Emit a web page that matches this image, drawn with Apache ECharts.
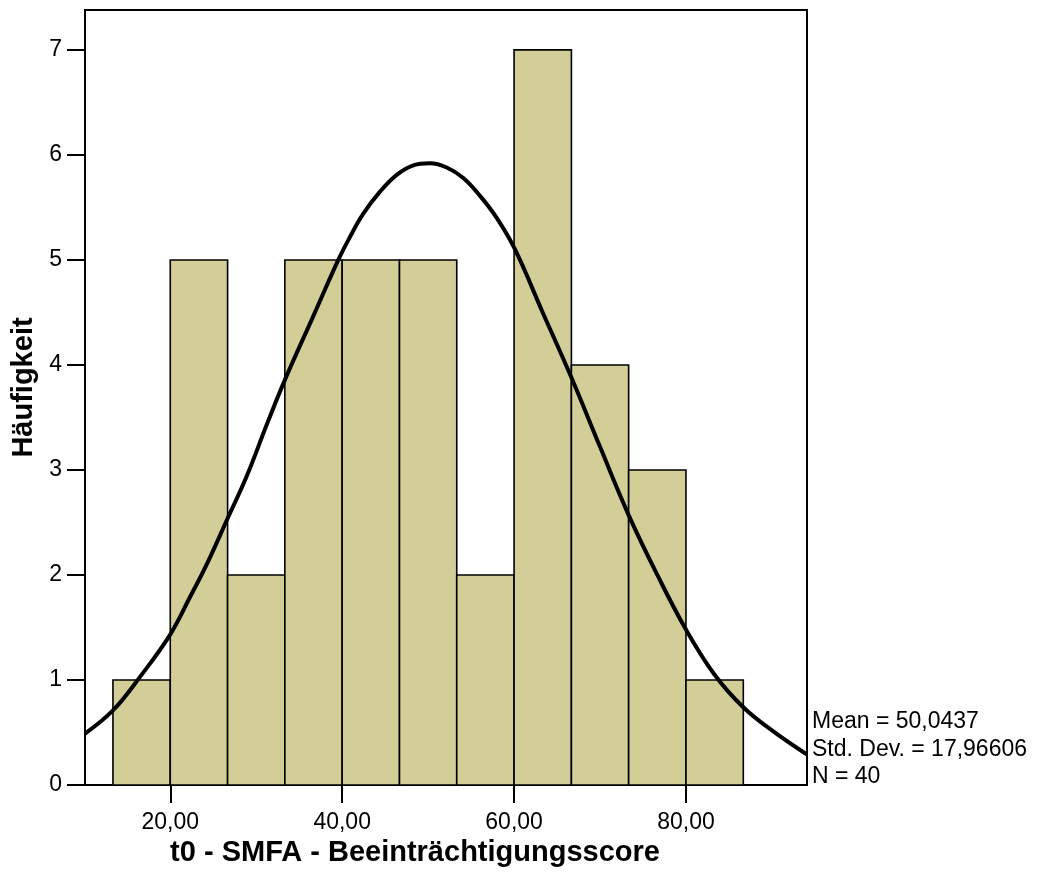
<!DOCTYPE html>
<html>
<head>
<meta charset="utf-8">
<script src="https://cdn.jsdelivr.net/npm/echarts@6/dist/echarts.min.js"></script>
<style>
html,body{margin:0;padding:0;background:#fff;}
#chart{width:1048px;height:882px;}
</style>
</head>
<body>
<div id="chart"></div>
<script>
// Histogram bins (edges) and counts
const binStart = [13.33, 20.00, 26.67, 33.33, 40.00, 46.67, 53.33, 60.00, 66.67, 73.33, 80.00];
const binEnd   = [20.00, 26.67, 33.33, 40.00, 46.67, 53.33, 60.00, 66.67, 73.33, 80.00, 86.67];
const counts   = [1, 5, 2, 5, 5, 5, 2, 7, 4, 3, 1];

// Normal curve (x value, frequency)
const curveX = [10.08, 13.33, 16.48, 19.97, 22.30, 24.24, 26.68, 28.89, 31.22, 33.35, 36.67, 39.55, 40.91, 42.46, 44.40, 46.35, 48.28, 50.22, 52.16, 54.09, 56.04, 57.98, 60.11, 63.33, 66.67, 70.00, 73.33, 76.67, 80.00, 83.33, 86.67, 90.00, 94.08];
const curveY = [0.49, 0.71, 1.03, 1.43, 1.79, 2.10, 2.54, 2.94, 3.43, 3.86, 4.47, 5.00, 5.22, 5.44, 5.65, 5.81, 5.90, 5.92, 5.88, 5.78, 5.61, 5.40, 5.10, 4.50, 3.88, 3.22, 2.57, 2.00, 1.48, 1.05, 0.74, 0.52, 0.29];

const xTicks = [20, 40, 60, 80];
const yTicks = [0, 1, 2, 3, 4, 5, 6, 7];

const statLines = ['Mean = 50,0437', 'Std. Dev. = 17,96606', 'N = 40'];

const FONT = 'Liberation Sans, Arial, Helvetica, sans-serif';

const barData = binStart.map((s, i) => [s, binEnd[i], counts[i]]);
const lineData = curveX.map((x, i) => [x, curveY[i]]);

const chart = echarts.init(document.getElementById('chart'), null, {renderer: 'canvas'});

const statGraphics = statLines.map((t, i) => ({
  type: 'text',
  left: 812,
  top: [710, 738, 765][i],
  style: {text: t, font: '23px ' + FONT, fill: '#000'}
}));

chart.setOption({
  animation: false,
  backgroundColor: '#fff',
  grid: {
    left: 85, right: 241, top: 10, bottom: 97,
    show: true, borderColor: '#000', borderWidth: 2, backgroundColor: 'transparent'
  },
  xAxis: {
    type: 'value',
    min: 10.08,
    max: 94.08,
    name: 't0 - SMFA - Beeinträchtigungsscore',
    nameLocation: 'middle',
    nameGap: 35,
    nameTextStyle: {fontFamily: FONT, fontSize: 29, fontWeight: 'bold', color: '#000', padding: [0, 62, 0, 0]},
    axisLine: {show: true, onZero: false, lineStyle: {color: '#000', width: 2}},
    axisTick: {show: true, length: 18, customValues: xTicks, lineStyle: {color: '#000', width: 2}},
    axisLabel: {
      customValues: xTicks,
      margin: 26,
      fontFamily: FONT, fontSize: 23, color: '#000',
      formatter: v => v.toFixed(2).replace('.', ',')
    },
    splitLine: {show: false}
  },
  yAxis: {
    type: 'value',
    min: 0,
    max: 7.38,
    name: 'Häufigkeit',
    nameLocation: 'middle',
    nameGap: 42,
    nameTextStyle: {fontFamily: FONT, fontSize: 29, fontWeight: 'bold', color: '#000', padding: [0, 0, 0, 20]},
    axisLine: {show: true, lineStyle: {color: '#000', width: 2}},
    axisTick: {show: true, length: 18, customValues: yTicks, lineStyle: {color: '#000', width: 2}},
    axisLabel: {
      customValues: yTicks,
      margin: 23,
      fontFamily: FONT, fontSize: 23, color: '#000'
    },
    splitLine: {show: false}
  },
  graphic: statGraphics,
  series: [
    {
      type: 'custom',
      data: barData,
      encode: {x: [0, 1], y: 2},
      renderItem: function (params, api) {
        const x0 = api.value(0), x1 = api.value(1), c = api.value(2);
        const pTop = api.coord([x0, c]);
        const pBot = api.coord([x1, 0]);
        return {
          type: 'rect',
          shape: {x: pTop[0], y: pTop[1], width: pBot[0] - pTop[0], height: pBot[1] - pTop[1]},
          style: {fill: '#d3cd97', stroke: '#000', lineWidth: 1.6}
        };
      },
      z: 2
    },
    {
      type: 'line',
      data: lineData,
      smooth: 0.4,
      showSymbol: false,
      symbol: 'none',
      lineStyle: {color: '#000', width: 4},
      z: 3
    }
  ]
});
</script>
</body>
</html>
